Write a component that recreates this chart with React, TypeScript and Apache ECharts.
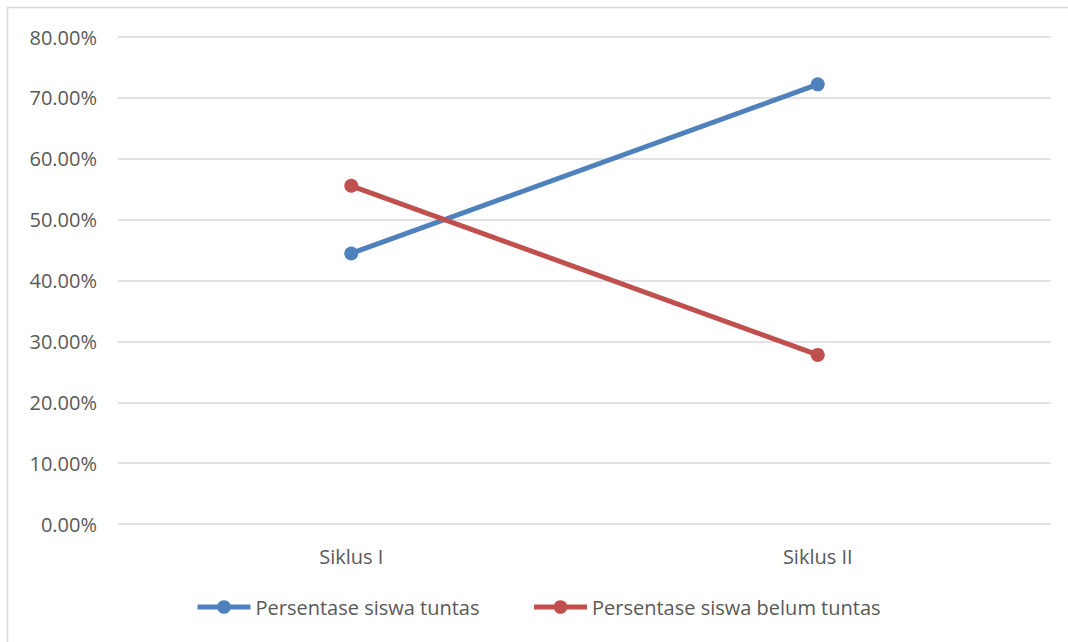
import React, { useEffect, useRef } from "react";
import * as echarts from "echarts";

const categories = ["Siklus I", "Siklus II"];
const tuntas = [44.44, 72.22];
const belumTuntas = [55.56, 27.78];
const seriesNames = ["Persentase siswa tuntas", "Persentase siswa belum tuntas"];

const FONT = "'Open Sans', 'Liberation Sans', sans-serif";

export default function App() {
  const ref = useRef<HTMLDivElement>(null);
  useEffect(() => {
    const chart = echarts.init(ref.current!, null, { renderer: "svg" });
    const mkSeries = (name: string, data: number[], color: string) => ({
      name,
      type: "line",
      data,
      symbol: "circle",
      symbolSize: 14,
      showSymbol: true,
      lineStyle: { color, width: 5 },
      itemStyle: { color },
      emphasis: { disabled: true },
    });
    chart.setOption({
      animation: false,
      backgroundColor: "#ffffff",
      textStyle: { fontFamily: FONT },
      graphic: [
        {
          type: "rect",
          shape: { x: 7.5, y: 7.5, width: 1080, height: 660 },
          style: { fill: "none", stroke: "#D9D9D9", lineWidth: 1.5 },
          silent: true,
        },
      ],
      grid: { left: 118, right: 17, top: 37, bottom: 118, containLabel: false },
      xAxis: {
        type: "category",
        data: categories,
        boundaryGap: true,
        axisLine: { show: false },
        axisTick: { show: false },
        axisLabel: { color: "#595959", fontSize: 20, margin: 22, fontFamily: FONT },
      },
      yAxis: {
        type: "value",
        min: 0,
        max: 80,
        interval: 10,
        axisLine: { show: false },
        axisTick: { show: false },
        splitLine: { lineStyle: { color: "#D9D9D9", width: 1.5 } },
        axisLabel: {
          color: "#595959",
          fontSize: 20,
          margin: 21,
          fontFamily: FONT,
          formatter: (v: number) => v.toFixed(2) + "%",
        },
      },
      legend: {
        bottom: 20,
        left: 190,
        itemWidth: 53,
        itemHeight: 17,
        itemGap: 52,
        lineStyle: { width: 5 },
        textStyle: { color: "#595959", fontSize: 20, fontFamily: FONT },
        data: seriesNames,
      },
      series: [
        mkSeries(seriesNames[0], tuntas, "#4F81BD"),
        mkSeries(seriesNames[1], belumTuntas, "#C0504D"),
      ],
    });
    return () => chart.dispose();
  }, []);
  return (
    <div
      ref={ref}
      style={{ position: "absolute", left: 0, top: 0, width: 1068, height: 642 }}
    />
  );
}
